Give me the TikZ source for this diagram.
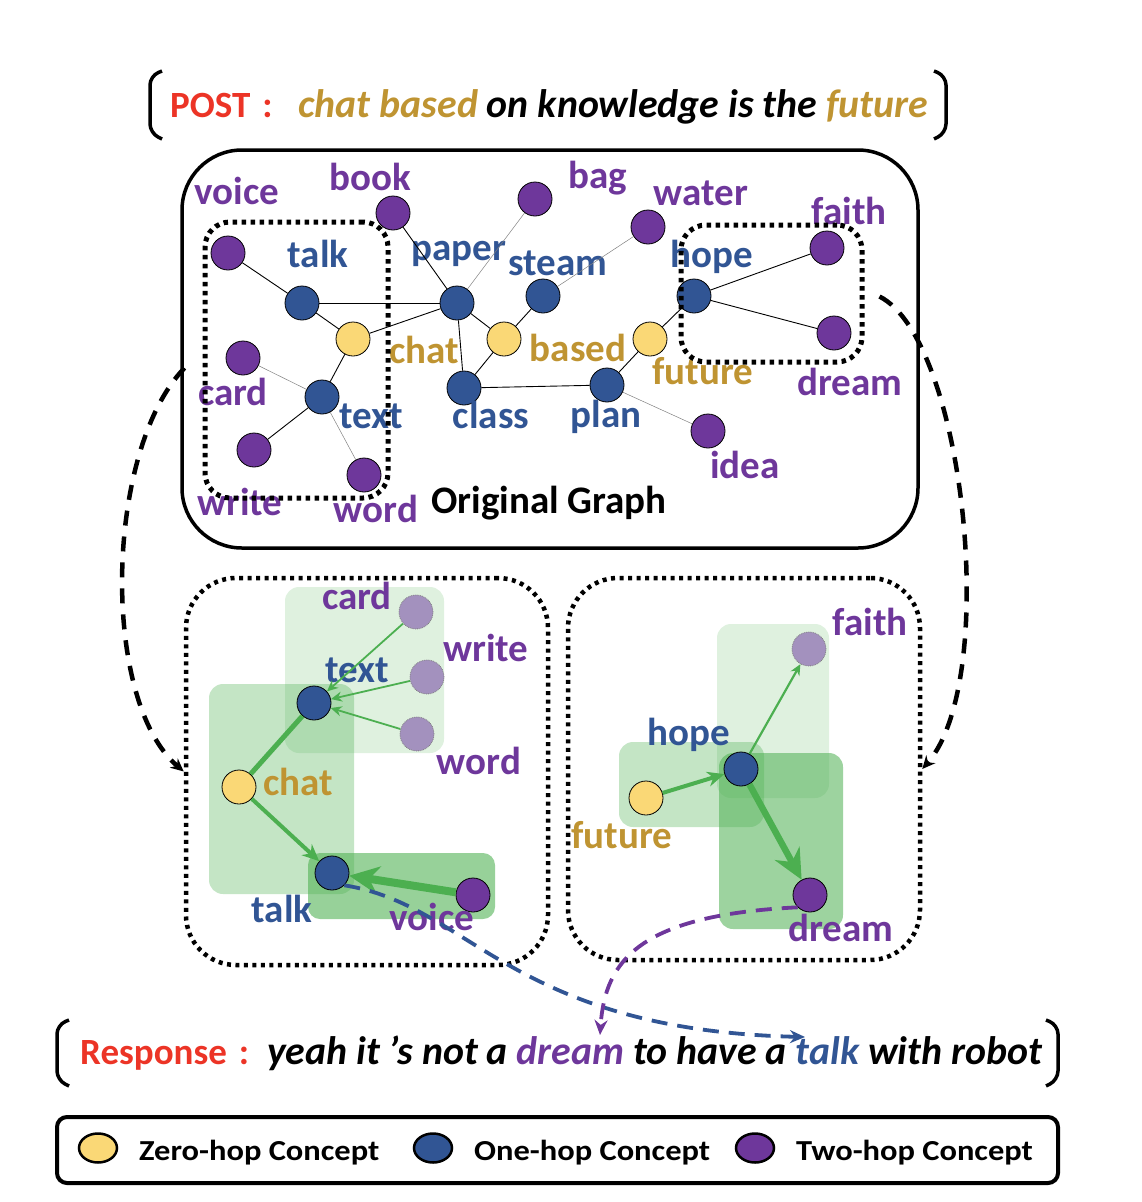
\documentclass[tikz,border=0pt]{standalone}
\usepackage{fontspec}
\setmainfont{Carlito}
\newfontfamily\legfont{Carlito}[FakeStretch=1.12]
\usetikzlibrary{arrows.meta,shapes.geometric}
\definecolor{purp}{RGB}{110,55,155}
\colorlet{twoc}{purp}
\definecolor{onec}{RGB}{49,85,148}
\definecolor{zeroc}{RGB}{250,216,118}
\definecolor{twolc}{RGB}{163,145,190}
\definecolor{gold}{RGB}{191,148,50}
\definecolor{postred}{RGB}{236,52,38}
\definecolor{arrg}{RGB}{76,175,80}
\newcommand\ittxt[1]{{\fontsize{39.8}{42}\selectfont\itshape #1}}
\tikzset{
  cpt/.style={circle,draw=black,line width=0.8pt,minimum size=34pt,inner sep=0pt},
  zero/.style={cpt,fill=zeroc},
  one/.style={cpt,fill=onec},
  two/.style={cpt,fill=purp},
  twol/.style={cpt,fill=twolc,draw=gray,densely dotted},
  lbl/.style={font=\fontsize{39}{44}\selectfont\bfseries,anchor=base,inner sep=0pt},
  big/.style={font=\fontsize{37}{42}\selectfont\bfseries,anchor=base west,inner sep=0pt},
  legtxt/.style={font=\legfont\fontsize{29}{32}\selectfont\bfseries,anchor=base west,inner sep=0pt},
  legdot/.style={ellipse,draw=black,line width=2.5pt,minimum width=38pt,minimum height=29pt,inner sep=0pt},
  edge/.style={line width=0.9pt},
  fedge/.style={line width=0.5pt,gray},
  dotbox/.style={draw,line width=5pt,dash pattern=on 4.5pt off 4.5pt,rounded corners=25pt,inner sep=0pt},
  hopbox/.style={draw,line width=4.5pt,dash pattern=on 4pt off 4.5pt,rounded corners=50pt,inner sep=0pt},
  ga/.style={draw=arrg,line width=1.8pt,-{Stealth[length=11pt,width=10pt]}},
  gb/.style={draw=arrg,line width=4pt,-{Stealth[length=17pt,width=15pt]}},
  gc/.style={draw=arrg,line width=8pt,-{Stealth[length=30pt,width=28pt]}},
  kdash/.style={line width=4.5pt,dash pattern=on 15pt off 11pt,-{Stealth[length=13pt,width=12pt]}},
  cdash/.style={line width=3.8pt,dash pattern=on 16pt off 10pt,-{Stealth[length=15pt,width=13pt]}},
  brk/.style={line width=3.5pt,rounded corners=9pt}
}
\begin{document}
\begin{tikzpicture}[x=1pt,y=-1pt]
\useasboundingbox (0,0) rectangle (1142,1202);
% post
\draw[brk] (162,71)--(150,76)--(150,133)--(162,139);
\draw[brk] (934,71)--(946,76)--(946,133)--(934,139);
\node[big] (post) at (170,117) {\textcolor{postred}{POST\hspace{12pt}:}\hspace{26pt}\ittxt{\textcolor{gold}{chat based} on knowledge is the \textcolor{gold}{future}}};
% original graph
\node[draw,line width=3.5pt,rounded corners=60pt,minimum width=736pt,minimum height=398pt] (orig) at (550,349) {};
\foreach \nm/\x/\y/\st in {voice/228/253/two,book/393/213/two,bag/535/199/two,water/648/227/two,faith/827/248/two,dream/834/333/two,card/243/358/two,write/254/450/two,word/364/475/two,idea/708/431/two,talk/302/303/one,paper/457/303/one,steam/543/296/one,hope/694/296/one,text/322/397/one,class/464/388/one,plan/607/385/one,chat/353/339/zero,based/504/339/zero,future/650/339/zero}
  \node[\st] (\nm) at (\x,\y) {};
\foreach \nm/\x/\y/\c in {voice/237/204/purp,book/370/190/purp,bag/598/188/purp,water/701/205/purp,faith/849/224/purp,dream/850/395/purp,card/233/405/purp,write/240/515/purp,word/376/522/purp,idea/745/478/purp,talk/318/267/onec,paper/459/260/onec,steam/558/275/onec,hope/712/267/onec,text/371/428/onec,class/491/428/onec,plan/606/427/onec,chat/424/363/gold,based/578/361/gold,future/703/384/gold}
  \node[lbl,text=\c] (l\nm) at (\x,\y) {\nm};
\foreach \a/\b in {voice/talk,talk/paper,talk/chat,chat/paper,chat/text,text/write,book/paper,paper/based,paper/class,based/steam,based/class,class/plan,plan/future,future/hope,hope/faith,hope/dream}
  \draw[edge] (\a)--(\b);
\foreach \a/\b in {card/text,text/word,bag/paper,steam/water,plan/idea}
  \draw[fedge] (\a)--(\b);
\node[dotbox,minimum width=183pt,minimum height=276pt] (ltbox) at (296.5,360) {};
\node[dotbox,minimum width=181pt,minimum height=137pt] (rtbox) at (771.5,293.5) {};
\node[lbl] (ogl) at (549,513) {Original Graph};
% hop boxes
\node[hopbox,minimum width=362pt,minimum height=387pt] (lbox) at (367,771.5) {};
\node[hopbox,minimum width=352pt,minimum height=382pt] (rbox) at (744,769) {};
\fill[arrg,opacity=.18,rounded corners=14pt] (285,587) rectangle (444,753);
\fill[arrg,opacity=.33,rounded corners=14pt] (209,684) rectangle (354,894);
\fill[arrg,opacity=.58,rounded corners=12pt] (308,853) rectangle (495,919);
\fill[arrg,opacity=.18,rounded corners=14pt] (717,624) rectangle (829,798);
\fill[arrg,opacity=.33,rounded corners=14pt] (619,742) rectangle (764,827);
\fill[arrg,opacity=.55,rounded corners=14pt] (719,753) rectangle (843,929);
\foreach \nm/\x/\y/\st in {card/416/612/twol,write/427/677/twol,word/417/734/twol,text/314/703/one,chat/239/787/zero,talk/332/873/one,voice/473/895/two}
  \node[\st] (a\nm) at (\x,\y) {};
\foreach \nm/\x/\y/\c in {card/357/609/purp,write/486/661/purp,text/357/682/onec,word/479/774/purp,chat/298/795/gold,talk/282/922/onec,voice/432/930/purp}
  \node[lbl,text=\c] (la\nm) at (\x,\y) {\nm};
\foreach \nm/\x/\y/\st in {faith/809/649/twol,hope/741/769/one,future/646/798/zero,dream/810/895/two}
  \node[\st] (b\nm) at (\x,\y) {};
\foreach \nm/\x/\y/\c in {faith/870/635/purp,hope/689/745/onec,future/622/848/gold,dream/841/941/purp}
  \node[lbl,text=\c] (lb\nm) at (\x,\y) {\nm};
\draw[ga] (acard)--(atext);
\draw[ga] (awrite)--(atext);
\draw[ga] (aword)--(atext);
\draw[draw=arrg,line width=5pt] (achat)--(atext);
\draw[gb] (achat)--(atalk);
\draw[gc] (avoice)--(atalk);
\draw[gb] (bfuture)--(bhope);
\draw[ga,line width=2.2pt] (bhope)--(bfaith);
\draw[gc,line width=6.5pt] (bhope)--(bdream);
% links between parts
\draw[kdash] ([shift={(-18,8)}]ltbox.west) .. controls (105,450) and (100,700) .. (lbox.west);
\draw[kdash] ([shift={(15,3)}]rtbox.east) .. controls (965,340) and (1000,680) .. (rbox.east);
\coordinate (rtalk) at (805,1037);
\coordinate (rdream) at (600,1035);
\draw[cdash,onec] (atalk.south east) .. controls (470,905) and (510,1030) .. (rtalk);
\draw[cdash,purp] (bdream.south west) .. controls (640,915) and (605,960) .. (rdream);
% response
\draw[brk] (69,1020)--(57,1025)--(57,1080)--(69,1086);
\draw[brk] (1046,1020)--(1058,1025)--(1058,1080)--(1046,1086);
\node[big] (resp) at (80,1064) {\textcolor{postred}{Response\hspace{12pt}:}\hspace{18pt}\ittxt{yeah it ’s not a \textcolor{purp}{dream} to have a \textcolor{onec}{talk} with robot}};
% legend
\node[draw,line width=4pt,rounded corners=10pt,minimum width=1001pt,minimum height=66pt] (leg) at (557.5,1150) {};
\foreach \nm/\x/\st/\tx in {z/98/zero/Zero-hop Concept,o/433/one/One-hop Concept,t/755/two/Two-hop Concept}{
  \node[legdot,fill=\st c] (k\nm) at (\x,1148) {};
  \node[legtxt] (kt\nm) at (\x+41,1160) {\tx};
}
\end{tikzpicture}
\end{document}
